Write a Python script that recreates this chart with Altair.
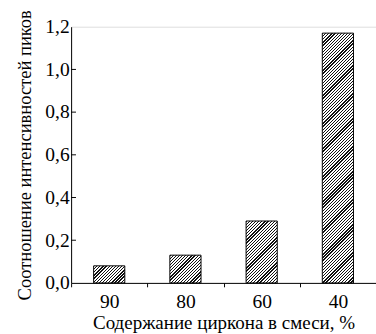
import altair as alt
import pandas as pd

categories = ["90", "80", "60", "40"]
values = [0.08, 0.13, 0.29, 1.17]
y_ticks = [0.0, 0.2, 0.4, 0.6, 0.8, 1.0, 1.2]

W, H = 313, 263
YMAX = 1.2
BAR_W = 32
FONT = "Liberation Serif, Times New Roman, serif"

df = pd.DataFrame({"cat": categories, "val": values})


def hatch(h, w=BAR_W, period=3.2, dark=1.3):
    L = w + h
    k = L / (w * w + h * h)
    stops = []
    n = int(L / period) + 2
    for i in range(n):
        s = i * period / L
        e = (i * period + dark) / L
        if s > 1:
            break
        stops += [
            alt.GradientStop(offset=min(s, 1), color="white"),
            alt.GradientStop(offset=min(s, 1), color="#111111"),
            alt.GradientStop(offset=min(e, 1), color="#111111"),
            alt.GradientStop(offset=min(e, 1), color="white"),
        ]
    return alt.LinearGradient(gradient="linear", stops=stops,
                              x1=0, y1=0, x2=w * k, y2=h * k)


xenc = alt.X("cat:N", sort=categories,
             scale=alt.Scale(paddingInner=0, paddingOuter=0),
             axis=alt.Axis(title="Содержание циркона в смеси, %", labelAngle=0,
                           tickBand="extent", tickSize=4, tickColor="black",
                           domainColor="black", labelColor="black",
                           labelFont=FONT, labelFontSize=20, labelPadding=5,
                           titleFont=FONT, titleFontSize=19.5, titleFontWeight="normal",
                           titleColor="black", titlePadding=3))
yenc = alt.Y("val:Q", scale=alt.Scale(domain=[0, YMAX], nice=False),
             axis=alt.Axis(title="Соотношение интенсивностей пиков", values=y_ticks,
                           ticks=False, domainColor="black", labelColor="black",
                           labelExpr="replace(format(datum.value, '.1f'), '.', ',')",
                           labelFont=FONT, labelFontSize=20, labelPadding=2,
                           titleFont=FONT, titleFontSize=19, titleFontWeight="normal",
                           titleColor="black", titlePadding=11, grid=False))

layers = []
for i, (c, v) in enumerate(zip(categories, values)):
    h = v / YMAX * H
    layer = alt.Chart(df).transform_filter(alt.datum.cat == c).mark_bar(
        size=BAR_W, color=hatch(h), stroke="black", strokeWidth=1
    ).encode(x=xenc, y=yenc)
    layers.append(layer)

tick_df = pd.DataFrame({"t": y_ticks[1:-1]})
ticks = alt.Chart(tick_df).mark_rule(color="black", strokeWidth=1).encode(
    y=alt.Y("t:Q", scale=alt.Scale(domain=[0, YMAX], nice=False)),
    x=alt.value(0), x2=alt.value(5))

chart = alt.layer(*layers, ticks).properties(
    width=W, height=H,
    autosize=alt.AutoSizeParams(type="none"),
    padding={"left": 73, "top": 23, "right": 0, "bottom": 48},
).configure_view(stroke="black", strokeWidth=1).configure(
    background="white", font=FONT)

chart.save("out.html", embed_options={"renderer": "svg", "actions": False})
